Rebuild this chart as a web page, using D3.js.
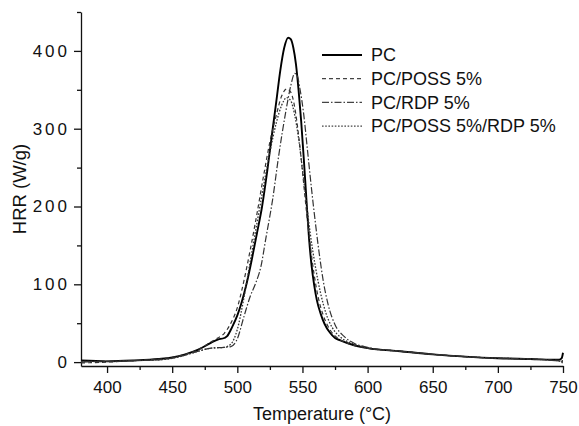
<!DOCTYPE html>
<html>
<head>
<meta charset="utf-8">
<script src="https://cdn.jsdelivr.net/npm/d3@7"></script>
<style>
  body { margin: 0; background: #fff; }
  svg { display: block; font-family: Arial, "Liberation Sans", sans-serif; }
</style>
</head>
<body>
<script>
'use strict';

// HRR curves: [temperature °C, HRR W/g]
const pc = [[380,2],[400,1],[420,2],[440,4],[450,6],[460,10],[470,16],[480,25],[485,29],[490,31],[492,33],
  [496,45],[500,60],[503,75],[507,100],[511,131],[515,165],[519,200],[523,246],[527,298],[530,336],[533,375],
  [536,404],[539,417],[541,415],[543,404],[545,383],[547,350],[549,310],[551,262],[553,210],[555,160],[557,124],
  [559,99],[561,80],[564,62],[567,49],[571,38],[575,31],[579,28],[589,22],[600,18],[625,14],[650,10],[675,7],
  [700,5],[725,4],[747,3],[749,5],[750,12]];

const possFive = [[380,-1],[400,0],[420,2],[440,4],[450,6],[460,10],[470,16],[480,26],[485,31],[490,37],[495,50],
  [500,70],[505,104],[510,145],[515,190],[520,238],[525,283],[530,318],[534,342],[538,351],[541,347],[544,328],
  [547,292],[550,245],[553,195],[556,150],[559,112],[562,84],[566,60],[571,42],[577,31],[585,24],[600,18],
  [625,14],[650,10],[675,7],[700,5],[725,4],[750,2]];

const rdpFive = [[380,0],[400,1],[420,2],[440,3],[450,5],[460,9],[470,14],[480,18],[490,19],[495,20],[500,30],
  [505,58],[510,85],[514,101],[518,122],[522,160],[527,208],[532,268],[537,320],[541,355],[544,371],[546,368],
  [548,352],[551,318],[554,270],[557,222],[560,178],[563,138],[566,104],[570,72],[575,48],[582,33],[590,24],
  [600,19],[625,14],[650,10],[675,7],[700,5],[725,4],[750,1]];

const possRdp = [[380,1],[400,1],[420,2],[440,3],[450,5],[460,9],[470,14],[480,18],[490,19],[495,23],[500,42],
  [505,82],[510,130],[515,178],[520,225],[525,270],[530,308],[534,330],[538,340],[541,336],[544,318],[547,288],
  [550,248],[553,205],[556,165],[560,122],[564,88],[568,63],[573,44],[580,31],[590,23],[600,18],[625,14],
  [650,10],[675,7],[700,5],[725,4],[748,1],[750,-2]];

const seriesNames = ['PC', 'PC/POSS 5%', 'PC/RDP 5%', 'PC/POSS 5%/RDP 5%'];
const seriesData = [pc, possFive, rdpFive, possRdp];
const xTicks = [400, 450, 500, 550, 600, 650, 700, 750];
const yTicks = [0, 100, 200, 300, 400];

const width = 579, height = 426;
const plot = {left: 81, right: 563, top: 12, bottom: 366};

const dashes = [null, '4,3', '7,2,1.5,2', '1.6,1.6'];
const widths = [1.9, 1.2, 1.2, 1.3];

const svg = d3.select('body').append('svg')
  .attr('width', width)
  .attr('height', height);

const x = d3.scaleLinear().domain([380, 750]).range([plot.left, plot.right]);
const y = d3.scaleLinear().domain([-5, 450]).range([plot.bottom, plot.top]);

// minor ticks first, then major ticks with labels
svg.append('g')
  .attr('transform', `translate(0,${plot.bottom})`)
  .call(d3.axisBottom(x).tickValues(d3.range(425, 750, 50)).tickSize(4).tickFormat(''))
  .call(g => g.select('.domain').remove());

svg.append('g')
  .attr('transform', `translate(${plot.left},0)`)
  .call(d3.axisLeft(y).tickValues([50, 150, 250, 350, 450]).tickSize(4).tickFormat(''))
  .call(g => g.select('.domain').remove());

const xAxis = svg.append('g')
  .attr('transform', `translate(0,${plot.bottom})`)
  .call(d3.axisBottom(x).tickValues(xTicks).tickSize(7).tickSizeOuter(0).tickPadding(8));

xAxis.selectAll('text')
  .style('font-size', '17px')
  .attr('fill', '#111');

const yAxis = svg.append('g')
  .attr('transform', `translate(${plot.left},0)`)
  .call(d3.axisLeft(y).tickValues(yTicks).tickSize(7).tickSizeOuter(0).tickPadding(4));

yAxis.selectAll('text')
  .style('font-size', '17px')
  .style('letter-spacing', '3px')
  .attr('fill', '#111');

svg.selectAll('.domain, .tick line')
  .attr('stroke', '#111')
  .attr('stroke-width', 1.3);

// axis titles
svg.append('text')
  .attr('x', (plot.left + plot.right) / 2)
  .attr('y', 420)
  .attr('text-anchor', 'middle')
  .style('font-size', '18px')
  .attr('fill', '#111')
  .text('Temperature (°C)');

svg.append('text')
  .attr('transform', `translate(26,${(plot.top + plot.bottom) / 2}) rotate(-90)`)
  .attr('text-anchor', 'middle')
  .style('font-size', '18.5px')
  .attr('fill', '#111')
  .text('HRR (W/g)');

const line = d3.line()
  .x(d => x(d[0]))
  .y(d => y(d[1]))
  .curve(d3.curveMonotoneX);

svg.append('g')
  .selectAll('path')
  .data(seriesData)
  .enter()
  .append('path')
  .attr('d', line)
  .attr('fill', 'none')
  .attr('stroke', (d, i) => i === 0 ? '#000' : '#333')
  .attr('stroke-width', (d, i) => widths[i])
  .attr('stroke-dasharray', (d, i) => dashes[i]);

// legend
const legend = svg.append('g')
  .attr('transform', 'translate(322,55)');

const rows = legend.selectAll('g')
  .data(seriesNames)
  .enter()
  .append('g')
  .attr('transform', (d, i) => `translate(0,${i * 23.7})`);

rows.append('line')
  .attr('x1', 0)
  .attr('x2', 40)
  .attr('stroke', (d, i) => i === 0 ? '#000' : '#444')
  .attr('stroke-width', (d, i) => i === 0 ? 1.9 : 1.2)
  .attr('stroke-dasharray', (d, i) => dashes[i]);

rows.append('text')
  .attr('x', 49)
  .attr('dy', '0.35em')
  .style('font-size', '18px')
  .attr('fill', '#111')
  .text(d => d);
</script>
</body>
</html>
